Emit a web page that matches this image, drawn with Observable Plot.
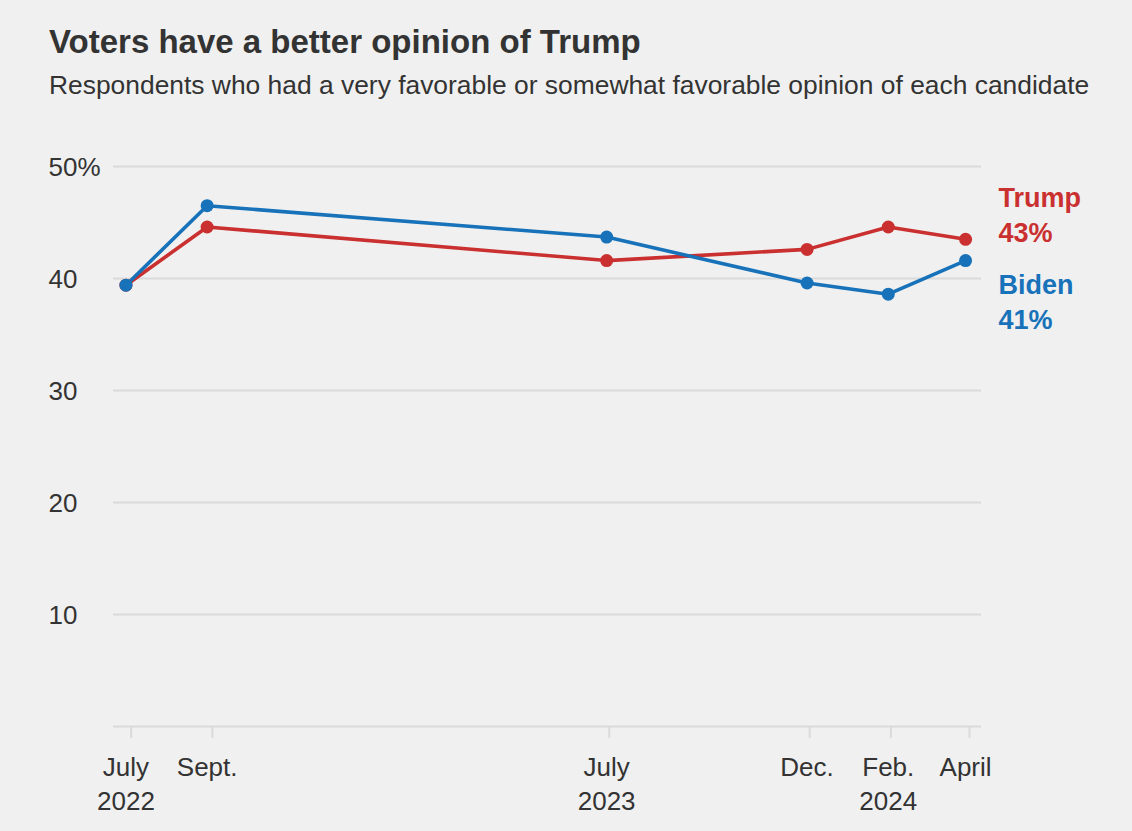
<!DOCTYPE html>
<html><head><meta charset="utf-8">
<script src="https://cdn.jsdelivr.net/npm/d3@7"></script>
<script src="https://cdn.jsdelivr.net/npm/@observablehq/plot@0.6"></script>
<style>
html,body{margin:0;padding:0;background:#f0f0f0;}
#wrap{position:relative;width:1132px;height:831px;overflow:hidden;background:#f0f0f0;}
#title{position:absolute;left:49px;top:22px;font-family:"Liberation Sans",sans-serif;font-weight:bold;font-size:33px;line-height:40px;color:#333;white-space:nowrap;}
#subtitle{position:absolute;left:49px;top:70px;font-family:"Liberation Sans",sans-serif;font-size:26.4px;line-height:30px;color:#333;white-space:nowrap;}
#chart{position:absolute;left:0;top:120px;}
</style></head>
<body>
<div id="wrap">
  <div id="title">Voters have a better opinion of Trump</div>
  <div id="subtitle">Respondents who had a very favorable or somewhat favorable opinion of each candidate</div>
  <div id="chart"></div>
</div>
<script>
const pollDates = ["2022-06-27","2022-08-28","2023-06-29","2023-11-29","2024-01-30","2024-03-29"];
const periodLabels = ["July\n2022","Sept.","July\n2023","Dec.","Feb.\n2024","April"];
const trump = [39.4,44.6,41.6,42.6,44.6,43.5];
const biden = [39.4,46.5,43.7,39.6,38.6,41.6];
const tickDates = ["2022-07-01","2022-09-01","2023-07-01","2023-12-01","2024-02-01","2024-04-01"];
const yTicks = [10,20,30,40,50];
const xDomain = ["2022-06-17T12:00Z","2024-04-10T04:00Z"];
const seriesNames = ["Trump","Biden"];
const latestLabels = ["43%","41%"];
const colors = ["#c9302f","#1772b9"];

const parse = d => new Date(d);
const rows = [
  ...pollDates.map((d,i)=>({date:parse(d), candidate:seriesNames[0], value:trump[i]})),
  ...pollDates.map((d,i)=>({date:parse(d), candidate:seriesNames[1], value:biden[i]}))
];
const labelRows = pollDates.map((d,i)=>({date:parse(d), text:periodLabels[i]}));
const last = pollDates.length-1;
const trumpEnd = [{date:parse(pollDates[last]), value:trump[last], text:seriesNames[0]+"\n"+latestLabels[0]}];
const bidenEnd = [{date:parse(pollDates[last]), value:biden[last], text:seriesNames[1]+"\n"+latestLabels[1]}];

const grid = "#dadada";
const ink = "#333333";

const chart = Plot.plot({
  width:1132, height:711,
  marginLeft:113, marginRight:151, marginTop:46, marginBottom:105,
  style:{background:"transparent", fontFamily:"'Liberation Sans', sans-serif", fontSize:"26px", color:ink, overflow:"visible"},
  x:{type:"utc", domain:xDomain.map(parse), axis:null},
  y:{domain:[0,50], axis:null},
  color:{domain:seriesNames, range:colors},
  marks:[
    Plot.ruleY([0, ...yTicks], {stroke:grid, strokeWidth:2}),
    Plot.axisX(tickDates.map(parse), {tickSize:12, tickFormat:()=>"", stroke:grid, strokeWidth:2, label:null, strokeOpacity:1}),
    Plot.text(yTicks, {y:d=>d, frameAnchor:"left", dx:-65, dy:1, textAnchor:"start", text:d=>d===50?"50%":String(d), fill:ink, fontSize:26}),
    Plot.text(labelRows, {x:"date", frameAnchor:"bottom", dy:25, lineAnchor:"top", text:"text", lineHeight:1.31, fill:ink, fontSize:26}),
    Plot.line(rows, {x:"date", y:"value", stroke:"candidate", z:"candidate", strokeWidth:3.6}),
    Plot.dot(rows, {x:"date", y:"value", fill:"candidate", r:6.5}),
    Plot.text(trumpEnd, {x:"date", y:"value", text:"text", dx:33, dy:-57.6, textAnchor:"start", lineAnchor:"top", lineHeight:1.296, fontWeight:"bold", fontSize:27, fill:colors[0]}),
    Plot.text(bidenEnd, {x:"date", y:"value", text:"text", dx:33, dy:9, textAnchor:"start", lineAnchor:"top", lineHeight:1.296, fontWeight:"bold", fontSize:27, fill:colors[1]})
  ]
});
document.getElementById("chart").appendChild(chart);
</script>
</body></html>
